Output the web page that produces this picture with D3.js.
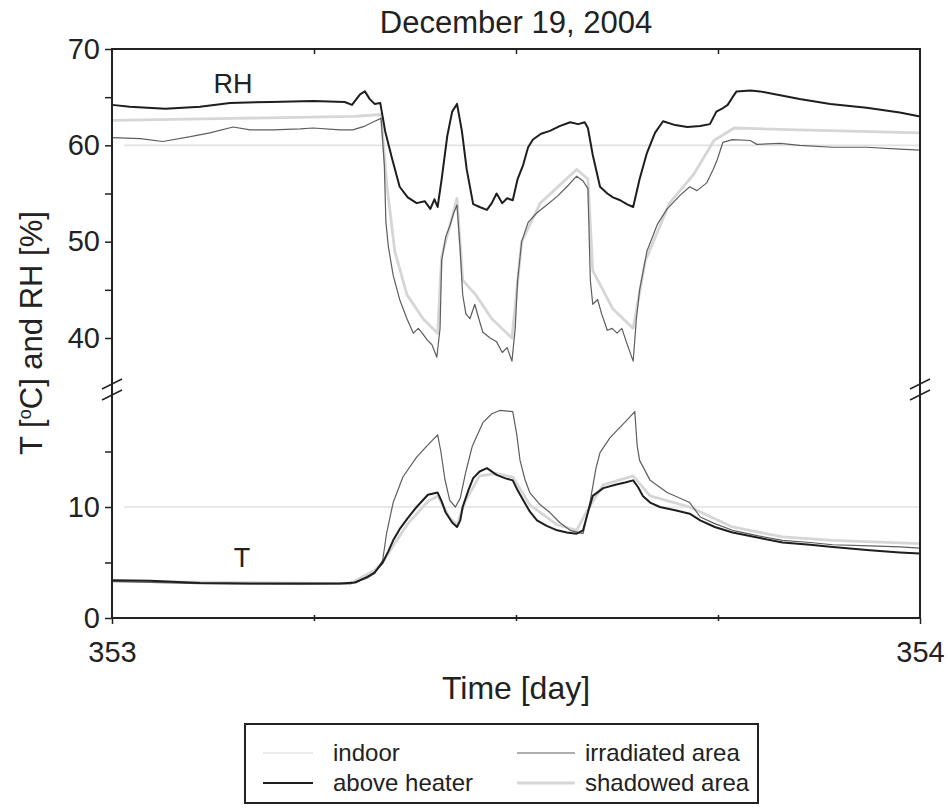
<!DOCTYPE html>
<html>
<head>
<meta charset="utf-8">
<script src="https://d3js.org/d3.v7.min.js"></script>
<style>
  body { margin: 0; background: #fff; }
  svg text { font-family: "Liberation Sans", Arial, sans-serif; fill: #222; }
</style>
</head>
<body>
<div id="chart-area"></div>
<script>
// values, time in days
let indoorTime = [353.015, 354.0];
let indoorRH = [60, 60];
let indoorT = [10, 10];

let heaterRHTime = [353.0, 353.022, 353.066, 353.109, 353.146, 353.196, 353.249, 353.288, 353.297, 353.307, 353.313, 353.319, 353.325, 353.332, 353.338, 353.347, 353.356, 353.366, 353.377, 353.387, 353.394, 353.399, 353.403, 353.408, 353.415, 353.421, 353.427, 353.433, 353.439, 353.447, 353.455, 353.464, 353.470, 353.476, 353.483, 353.489, 353.496, 353.502, 353.509, 353.515, 353.521, 353.531, 353.542, 353.554, 353.567, 353.577, 353.585, 353.589, 353.595, 353.604, 353.613, 353.620, 353.629, 353.637, 353.645, 353.653, 353.662, 353.672, 353.682, 353.697, 353.712, 353.728, 353.740, 353.748, 353.755, 353.762, 353.768, 353.773, 353.790, 353.802, 353.827, 353.851, 353.889, 353.934, 353.975, 354.0];
let heaterRH = [64.2, 64.0, 63.8, 64.0, 64.4, 64.5, 64.6, 64.5, 64.2, 65.3, 65.6, 64.8, 64.3, 64.4, 61.5, 58.5, 55.7, 54.6, 54.0, 54.2, 53.4, 54.4, 53.6, 56.5, 61.0, 63.5, 64.3, 61.5, 57.5, 53.9, 53.6, 53.3, 54.0, 55.0, 54.0, 54.5, 54.3, 56.5, 58.0, 59.8, 60.6, 61.2, 61.5, 62.0, 62.4, 62.2, 62.4, 61.8, 59.0, 55.7, 55.0, 54.6, 54.3, 53.9, 53.6, 56.5, 59.2, 61.3, 62.5, 62.1, 61.9, 62.0, 62.2, 63.5, 63.8, 64.2, 65.0, 65.6, 65.7, 65.6, 65.2, 64.8, 64.3, 63.9, 63.4, 63.0];

let irradRHTime = [353.0, 353.035, 353.063, 353.097, 353.121, 353.150, 353.171, 353.199, 353.233, 353.249, 353.282, 353.298, 353.313, 353.325, 353.333, 353.337, 353.339, 353.342, 353.348, 353.356, 353.365, 353.373, 353.379, 353.384, 353.390, 353.396, 353.402, 353.406, 353.408, 353.413, 353.418, 353.423, 353.427, 353.431, 353.434, 353.438, 353.443, 353.449, 353.454, 353.459, 353.468, 353.476, 353.483, 353.489, 353.495, 353.499, 353.502, 353.507, 353.515, 353.526, 353.538, 353.551, 353.563, 353.575, 353.583, 353.589, 353.592, 353.595, 353.601, 353.606, 353.613, 353.619, 353.625, 353.631, 353.637, 353.645, 353.649, 353.653, 353.662, 353.675, 353.687, 353.703, 353.715, 353.724, 353.736, 353.744, 353.749, 353.756, 353.768, 353.790, 353.798, 353.827, 353.851, 353.892, 353.934, 353.975, 354.0];
let irradRH = [60.8, 60.7, 60.4, 60.9, 61.3, 61.9, 61.6, 61.6, 61.7, 61.8, 61.6, 61.6, 62.0, 62.5, 62.8, 58.0, 52.0, 49.5, 46.5, 44.0, 42.0, 40.5, 41.0, 40.5, 39.8, 39.3, 38.0, 41.0, 48.0, 50.5, 51.6, 53.0, 53.8, 49.0, 44.5, 42.5, 42.0, 43.5, 42.0, 40.6, 40.0, 39.6, 38.5, 39.0, 37.6, 41.0, 46.0, 50.0, 52.0, 53.0, 53.8, 54.7, 55.7, 56.8, 56.3, 55.5, 46.0, 43.5, 44.0, 42.5, 40.8, 41.0, 40.5, 41.0, 39.5, 37.6, 42.0, 45.0, 49.0, 51.8, 53.4, 54.8, 55.7, 55.3, 56.1, 57.5, 58.5, 60.3, 60.6, 60.5, 60.1, 60.2, 60.0, 59.8, 59.8, 59.6, 59.5];

let shadowRHTime = [353.0, 353.15, 353.30, 353.333, 353.340, 353.350, 353.365, 353.385, 353.403, 353.408, 353.427, 353.434, 353.45, 353.47, 353.495, 353.507, 353.53, 353.575, 353.589, 353.595, 353.62, 353.645, 353.66, 353.69, 353.72, 353.745, 353.77, 353.85, 354.0];
let shadowRH = [62.6, 62.8, 63.0, 63.2, 56.0, 49.0, 44.5, 42.0, 40.5, 48.5, 54.5, 46.0, 44.5, 42.0, 40.0, 50.0, 54.0, 57.5, 56.5, 47.0, 43.0, 41.0, 48.0, 54.0, 57.0, 60.5, 61.8, 61.6, 61.3];

let heaterTTime = [353.0, 353.047, 353.109, 353.171, 353.233, 353.282, 353.301, 353.316, 353.325, 353.335, 353.342, 353.348, 353.356, 353.366, 353.377, 353.391, 353.403, 353.408, 353.413, 353.421, 353.427, 353.431, 353.434, 353.441, 353.447, 353.455, 353.464, 353.476, 353.486, 353.496, 353.502, 353.509, 353.517, 353.526, 353.538, 353.551, 353.563, 353.575, 353.583, 353.589, 353.595, 353.608, 353.623, 353.635, 353.645, 353.651, 353.657, 353.666, 353.678, 353.697, 353.715, 353.728, 353.746, 353.768, 353.802, 353.830, 353.864, 353.892, 353.938, 353.975, 354.0];
let heaterT = [3.4, 3.35, 3.15, 3.1, 3.1, 3.1, 3.2, 3.7, 4.1, 5.0, 6.0, 7.0, 8.0, 9.0, 10.0, 11.1, 11.3, 10.5, 9.5, 8.6, 8.2, 8.8, 10.0, 11.5, 12.6, 13.2, 13.5, 12.9, 12.6, 12.4, 11.5, 10.6, 9.6, 8.8, 8.3, 7.9, 7.7, 7.6, 7.9, 9.5, 11.0, 11.7, 12.0, 12.2, 12.4, 11.8, 11.0, 10.4, 10.0, 9.7, 9.4, 8.8, 8.2, 7.7, 7.2, 6.8, 6.6, 6.4, 6.1, 5.9, 5.8];

let irradTTime = [353.0, 353.109, 353.233, 353.295, 353.316, 353.325, 353.335, 353.340, 353.348, 353.360, 353.377, 353.391, 353.403, 353.407, 353.412, 353.418, 353.425, 353.431, 353.438, 353.446, 353.459, 353.470, 353.480, 353.496, 353.501, 353.505, 353.511, 353.517, 353.530, 353.542, 353.554, 353.567, 353.583, 353.592, 353.599, 353.604, 353.616, 353.625, 353.637, 353.647, 353.650, 353.653, 353.666, 353.687, 353.715, 353.728, 353.746, 353.768, 353.800, 353.830, 353.864, 353.892, 353.938, 353.975, 354.0];
let irradT = [3.3, 3.1, 3.05, 3.1, 3.6, 4.0, 5.2, 7.7, 10.4, 12.7, 14.5, 15.6, 16.5, 15.0, 12.5, 10.6, 10.0, 10.8, 13.2, 15.5, 17.6, 18.4, 18.7, 18.6, 16.5, 14.2, 12.5, 11.3, 10.2, 9.5, 8.6, 7.9, 7.6, 10.6, 13.5, 14.9, 16.2, 16.9, 17.8, 18.6, 15.5, 14.2, 12.4, 11.3, 10.4, 9.1, 8.5, 7.9, 7.4, 7.0, 6.8, 6.6, 6.5, 6.4, 6.3];

let shadowTTime = [353.0, 353.295, 353.325, 353.335, 353.348, 353.366, 353.391, 353.403, 353.418, 353.427, 353.437, 353.455, 353.476, 353.496, 353.517, 353.551, 353.575, 353.589, 353.608, 353.645, 353.666, 353.715, 353.768, 353.830, 353.892, 354.0];
let shadowT = [3.3, 3.1, 4.3, 5.0, 6.5, 8.5, 10.5, 11.0, 9.0, 8.4, 10.5, 12.8, 13.0, 12.7, 10.2, 8.4, 7.9, 9.8, 12.0, 12.8, 11.0, 10.0, 8.2, 7.3, 7.0, 6.7];

let rhMajor = [40, 50, 60, 70];
let rhMinor = [45, 55, 65];
let tMajor = [0, 10];
let tMinor = [5, 15];
let dayLabels = [353, 354];
let dayMinor = [353.25, 353.5, 353.75];

let seriesNames = ["indoor", "above heater", "irradiated area", "shadowed area"];
let seriesColors = ["#e2e2e2", "#1e1e1e", "#5e5e5e", "#d6d6d6"];
let seriesWidths = [1.6, 2, 1.2, 2.8];

let svg = d3.select("#chart-area").append("svg")
    .attr("width", 948)
    .attr("height", 809);

let plotLeft = 112, plotRight = 920, plotTop = 49, plotBottom = 618;

let x = d3.scaleLinear().domain([353, 354]).range([plotLeft, plotRight]);
let yRH = d3.scaleLinear().domain([40, 70]).range([338, plotTop]);
let yT = d3.scaleLinear().domain([0, 10]).range([plotBottom, 507]);

let zip = (ts, vs) => ts.map((t, i) => [t, vs[i]]);
let lineRH = d3.line().x(d => x(d[0])).y(d => yRH(d[1]));
let lineT = d3.line().x(d => x(d[0])).y(d => yT(d[1]));

let series = [
    { rh: zip(indoorTime, indoorRH), t: zip(indoorTime, indoorT) },
    { rh: zip(heaterRHTime, heaterRH), t: zip(heaterTTime, heaterT) },
    { rh: zip(irradRHTime, irradRH), t: zip(irradTTime, irradT) },
    { rh: zip(shadowRHTime, shadowRH), t: zip(shadowTTime, shadowT) }
];

// draw order: light ones first, dark on top
let order = [0, 3, 2, 1];
order.forEach(function (i) {
    let s = series[i];
    svg.append("path")
        .datum(s.rh)
        .attr("fill", "none")
        .attr("stroke", seriesColors[i])
        .attr("stroke-width", seriesWidths[i])
        .attr("stroke-linejoin", "round")
        .attr("d", lineRH);
    svg.append("path")
        .datum(s.t)
        .attr("fill", "none")
        .attr("stroke", seriesColors[i])
        .attr("stroke-width", seriesWidths[i])
        .attr("stroke-linejoin", "round")
        .attr("d", lineT);
});

function styleAxis(g) {
    g.select(".domain").remove();
    g.selectAll(".tick line").attr("stroke", "#222").attr("stroke-width", 1.5);
    g.selectAll(".tick text")
        .style("font-family", "'Liberation Sans', Arial, sans-serif")
        .style("font-size", "29px")
        .attr("fill", "#222");
}

// left axis: RH and T scales share one line
svg.append("g")
    .attr("transform", "translate(" + plotLeft + ",0)")
    .call(d3.axisLeft(yRH).tickValues(rhMajor).tickSize(7).tickPadding(5).tickFormat(d3.format("d")))
    .call(styleAxis);
svg.append("g")
    .attr("transform", "translate(" + plotLeft + ",0)")
    .call(d3.axisLeft(yRH).tickValues(rhMinor).tickSize(7).tickFormat(""))
    .call(styleAxis);
svg.append("g")
    .attr("transform", "translate(" + plotLeft + ",0)")
    .call(d3.axisLeft(yT).tickValues(tMajor).tickSize(7).tickPadding(5).tickFormat(d3.format("d")))
    .call(styleAxis);
svg.append("g")
    .attr("transform", "translate(" + plotLeft + ",0)")
    .call(d3.axisLeft(yT).tickValues(tMinor).tickSize(7).tickFormat(""))
    .call(styleAxis);

// bottom axis
svg.append("g")
    .attr("transform", "translate(0," + plotBottom + ")")
    .call(d3.axisBottom(x).tickValues(dayLabels).tickSize(6).tickPadding(17).tickFormat(d3.format("d")))
    .call(styleAxis);
svg.append("g")
    .attr("transform", "translate(0," + (plotBottom - 3) + ")")
    .call(d3.axisBottom(x).tickValues(dayMinor).tickSize(6).tickFormat(""))
    .call(styleAxis);
// top axis, ticks inward
svg.append("g")
    .attr("transform", "translate(0," + plotTop + ")")
    .call(d3.axisBottom(x).tickValues(dayMinor).tickSize(5).tickFormat(""))
    .call(styleAxis);

// frame
svg.append("rect")
    .attr("x", plotLeft).attr("y", plotTop)
    .attr("width", plotRight - plotLeft).attr("height", plotBottom - plotTop)
    .attr("fill", "none")
    .attr("stroke", "#222")
    .attr("stroke-width", 2);

// axis break marks
[plotLeft, plotRight].forEach(function (bx) {
    [384, 395].forEach(function (by) {
        svg.append("line")
            .attr("x1", bx - 10).attr("y1", by + 5)
            .attr("x2", bx + 10).attr("y2", by - 5)
            .attr("stroke", "#222")
            .attr("stroke-width", 1.5);
    });
});

// titles
svg.append("text")
    .attr("x", 516).attr("y", 33)
    .attr("text-anchor", "middle")
    .style("font-size", "31px")
    .text("December 19, 2004");

svg.append("text")
    .attr("x", 516).attr("y", 699)
    .attr("text-anchor", "middle")
    .style("font-size", "32px")
    .text("Time [day]");

let yLabel = svg.append("text")
    .attr("transform", "translate(42,333) rotate(-90)")
    .attr("text-anchor", "middle")
    .style("font-size", "31px");
yLabel.append("tspan").text("T [");
yLabel.append("tspan").attr("dy", -11).style("font-size", "18px").text("o");
yLabel.append("tspan").attr("dy", 11).text("C] and RH [%]");

svg.append("text")
    .attr("x", 233).attr("y", 93)
    .attr("text-anchor", "middle")
    .style("font-size", "27px")
    .text("RH");
svg.append("text")
    .attr("x", 242).attr("y", 567)
    .attr("text-anchor", "middle")
    .style("font-size", "27px")
    .text("T");

// legend
let legend = svg.append("g");
legend.append("rect")
    .attr("x", 245).attr("y", 724)
    .attr("width", 513).attr("height", 79)
    .attr("fill", "#fff")
    .attr("stroke", "#222")
    .attr("stroke-width", 2);

let legendPos = [
    { x1: 263, x2: 313, tx: 333, y: 761 },
    { x1: 263, x2: 313, tx: 333, y: 791 },
    { x1: 517, x2: 575, tx: 585, y: 761 },
    { x1: 517, x2: 575, tx: 585, y: 791 }
];
seriesNames.forEach(function (name, i) {
    let p = legendPos[i];
    legend.append("line")
        .attr("x1", p.x1).attr("x2", p.x2)
        .attr("y1", p.y - 8).attr("y2", p.y - 8)
        .attr("stroke", seriesColors[i])
        .attr("stroke-width", seriesWidths[i]);
    legend.append("text")
        .attr("x", p.tx).attr("y", p.y)
        .style("font-size", "24px")
        .text(name);
});
</script>
</body>
</html>
